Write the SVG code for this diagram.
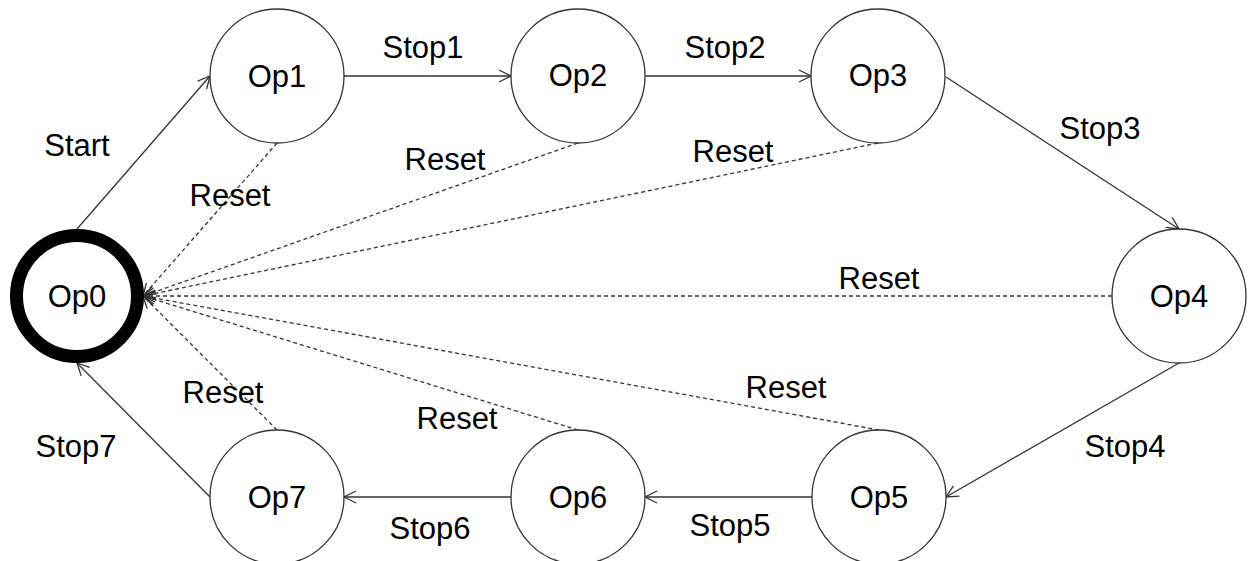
<svg xmlns="http://www.w3.org/2000/svg" width="1253" height="561" viewBox="0 0 1253 561">
  <style>
    .node { fill: #ffffff; stroke: #333333; stroke-width: 1.3; }
    .start-node { fill: #ffffff; stroke: #000000; stroke-width: 13; }
    .edge { fill: none; stroke: #333333; stroke-width: 1.3; }
    .reset { stroke-dasharray: 4 3; }
    text { font-family: "Liberation Sans", Arial, sans-serif; font-size: 31px; fill: #000000; text-anchor: middle; }
  </style>
  <defs>
    <marker id="arrow" viewBox="0 0 14 14" refX="13" refY="7" markerWidth="14" markerHeight="14" markerUnits="userSpaceOnUse" orient="auto">
      <path d="M1,1 L13,7 L1,13" fill="none" stroke="#333333" stroke-width="1.3"/>
    </marker>
  </defs>

  <rect width="1253" height="561" fill="#ffffff"/>

  <!-- transitions -->
  <g id="connectors">
    <line class="edge" x1="77" y1="229" x2="210" y2="76" marker-end="url(#arrow)"/>
    <line class="edge" x1="344" y1="76" x2="511" y2="76" marker-end="url(#arrow)"/>
    <line class="edge" x1="645" y1="76" x2="811" y2="76" marker-end="url(#arrow)"/>
    <line class="edge" x1="946" y1="77" x2="1179" y2="229" marker-end="url(#arrow)"/>
    <line class="edge" x1="1179" y1="363" x2="946" y2="497" marker-end="url(#arrow)"/>
    <line class="edge" x1="812" y1="497" x2="645" y2="497" marker-end="url(#arrow)"/>
    <line class="edge" x1="511" y1="497" x2="344" y2="497" marker-end="url(#arrow)"/>
    <line class="edge" x1="210" y1="497" x2="77" y2="363" marker-end="url(#arrow)"/>

    <line class="edge reset" x1="277" y1="143" x2="143" y2="296" marker-end="url(#arrow)"/>
    <line class="edge reset" x1="578" y1="143" x2="143" y2="296" marker-end="url(#arrow)"/>
    <line class="edge reset" x1="878" y1="143" x2="143" y2="296" marker-end="url(#arrow)"/>
    <line class="edge reset" x1="1112" y1="296" x2="143" y2="296" marker-end="url(#arrow)"/>
    <line class="edge reset" x1="879" y1="430" x2="143" y2="296" marker-end="url(#arrow)"/>
    <line class="edge reset" x1="578" y1="430" x2="143" y2="296" marker-end="url(#arrow)"/>
    <line class="edge reset" x1="277" y1="430" x2="143" y2="296" marker-end="url(#arrow)"/>

    <text x="77" y="156">Start</text>
    <text x="423" y="58">Stop1</text>
    <text x="725" y="58">Stop2</text>
    <text x="1100" y="139">Stop3</text>
    <text x="1125" y="457">Stop4</text>
    <text x="730" y="536">Stop5</text>
    <text x="430" y="539">Stop6</text>
    <text x="76" y="457">Stop7</text>

    <text x="230" y="206">Reset</text>
    <text x="445" y="170">Reset</text>
    <text x="733" y="162">Reset</text>
    <text x="879" y="289">Reset</text>
    <text x="786" y="398">Reset</text>
    <text x="457" y="429">Reset</text>
    <text x="223" y="403">Reset</text>
  </g>

  <!-- states -->
  <g id="Op0"><circle class="start-node" cx="77" cy="296" r="60.5"/><text x="77" y="307">Op0</text></g>
  <g id="Op1"><circle class="node" cx="277" cy="76" r="67"/><text x="277" y="87">Op1</text></g>
  <g id="Op2"><circle class="node" cx="578" cy="76" r="67"/><text x="578" y="86">Op2</text></g>
  <g id="Op3"><circle class="node" cx="878" cy="76" r="67"/><text x="878" y="86">Op3</text></g>
  <g id="Op4"><circle class="node" cx="1179" cy="296" r="67"/><text x="1179" y="307">Op4</text></g>
  <g id="Op5"><circle class="node" cx="879" cy="497" r="67"/><text x="879" y="508">Op5</text></g>
  <g id="Op6"><circle class="node" cx="578" cy="497" r="67"/><text x="578" y="508">Op6</text></g>
  <g id="Op7"><circle class="node" cx="277" cy="497" r="67"/><text x="277" y="508">Op7</text></g>
</svg>
